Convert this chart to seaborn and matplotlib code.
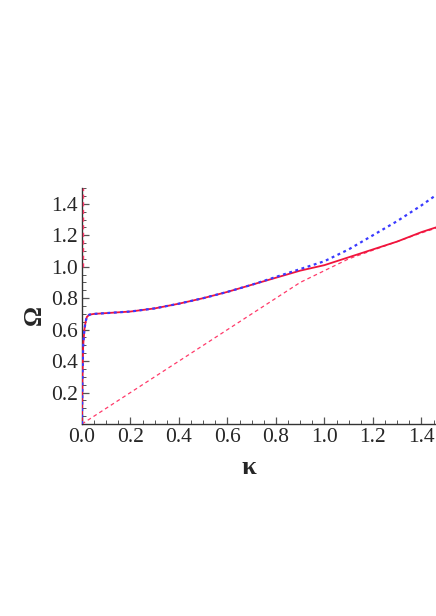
import matplotlib
matplotlib.use("Agg")
import matplotlib.pyplot as plt
import seaborn as sns
import pandas as pd
from matplotlib.ticker import MultipleLocator, FixedLocator

sns.set_theme(style="white")
plt.rcParams['font.family'] = 'serif'
plt.rcParams['font.serif'] = ['Liberation Serif', 'DejaVu Serif']

# solid red curve
kappa_solid = [0.0, 0.002, 0.005, 0.01, 0.015, 0.02, 0.03, 0.05, 0.1, 0.2, 0.3, 0.4,
               0.5, 0.6, 0.7, 0.8, 0.9, 1.0, 1.1, 1.2, 1.3, 1.4, 1.46]
omega_solid = [0.0, 0.3, 0.5, 0.6, 0.65, 0.68, 0.695, 0.70, 0.705, 0.715, 0.735, 0.765,
               0.80, 0.84, 0.885, 0.93, 0.975, 1.01, 1.06, 1.11, 1.16, 1.22, 1.25]
# blue dotted curve
kappa_blue = [0.0, 0.002, 0.005, 0.01, 0.015, 0.02, 0.03, 0.05, 0.1, 0.2, 0.3, 0.4,
              0.5, 0.6, 0.7, 0.8, 0.9, 1.0, 1.1, 1.2, 1.3, 1.4, 1.46]
omega_blue = [0.0, 0.3, 0.5, 0.6, 0.65, 0.68, 0.695, 0.70, 0.705, 0.715, 0.735, 0.765,
              0.80, 0.84, 0.885, 0.935, 0.985, 1.035, 1.11, 1.2, 1.29, 1.39, 1.455]
# thin red dashed asymptote
kappa_dash = [0.0, 0.3, 0.6, 0.9, 1.0, 1.1, 1.2, 1.3, 1.4, 1.46]
omega_dash = [0.0, 0.3, 0.6, 0.9, 0.975, 1.05, 1.105, 1.16, 1.215, 1.245]
# thin red dashed branch near kappa = 0
kappa_branch = [0.004, 0.004]
omega_branch = [1.0, 1.5]

xticks = [0.0, 0.2, 0.4, 0.6, 0.8, 1.0, 1.2, 1.4]
yticks = [0.2, 0.4, 0.6, 0.8, 1.0, 1.2, 1.4]

fig = plt.figure(figsize=(4.36, 6.16), dpi=100)
ax = fig.add_axes([0.188, 0.3117, 0.812, 0.383])

df_s = pd.DataFrame({"k": kappa_solid, "w": omega_solid})
df_b = pd.DataFrame({"k": kappa_blue, "w": omega_blue})
df_d = pd.DataFrame({"k": kappa_dash, "w": omega_dash})
df_br = pd.DataFrame({"k": kappa_branch, "w": omega_branch})

sns.lineplot(data=df_d, x="k", y="w", ax=ax, color="#ff3a6a", lw=0.9,
             estimator=None, sort=False, linestyle=(0, (3, 2.5)), zorder=5)
sns.lineplot(data=df_br, x="k", y="w", ax=ax, color="#ff3a6a", lw=1.0,
             estimator=None, sort=False, linestyle=(0, (3, 2.5)), zorder=5,
             clip_on=False)
sns.lineplot(data=df_s, x="k", y="w", ax=ax, color="#f0143c", lw=1.3,
             estimator=None, sort=False, zorder=6)
sns.lineplot(data=df_b, x="k", y="w", ax=ax, color="#3a3aff", lw=1.6,
             estimator=None, sort=False, linestyle=(0, (1.3, 1.6)), zorder=7)

ax.set_xlim(0, 1.46)
ax.set_ylim(0, 1.5)
ax.xaxis.set_major_locator(FixedLocator(xticks))
ax.yaxis.set_major_locator(FixedLocator(yticks))
ax.set_xticklabels([f"{t:.1f}" for t in xticks])
ax.set_yticklabels([f"{t:.1f}" for t in yticks])
ax.xaxis.set_minor_locator(MultipleLocator(0.05))
ax.yaxis.set_minor_locator(MultipleLocator(0.05))
ax.tick_params(which="major", direction="in", length=5, width=0.9, color="#555555",
               labelsize=15.5, pad=3, bottom=True, left=True)
ax.tick_params(which="minor", direction="in", length=3, width=0.7, color="#555555",
               bottom=True, left=True)
for s in ["top", "right"]:
    ax.spines[s].set_visible(False)
for s in ["left", "bottom"]:
    ax.spines[s].set_color("#333333")
    ax.spines[s].set_linewidth(1.0)
ax.set_xlabel("")
ax.set_ylabel("")
ax.set_facecolor("white")
fig.text(34 / 436, 1 - 315 / 616, "Ω", fontsize=18, fontweight="bold",
         rotation=90, ha="center", va="center")
fig.text(249 / 436, 1 - 468 / 616, "κ", fontsize=19, fontweight="bold",
         ha="center", va="center")

fig.savefig("out.png", dpi=100, facecolor="white")
